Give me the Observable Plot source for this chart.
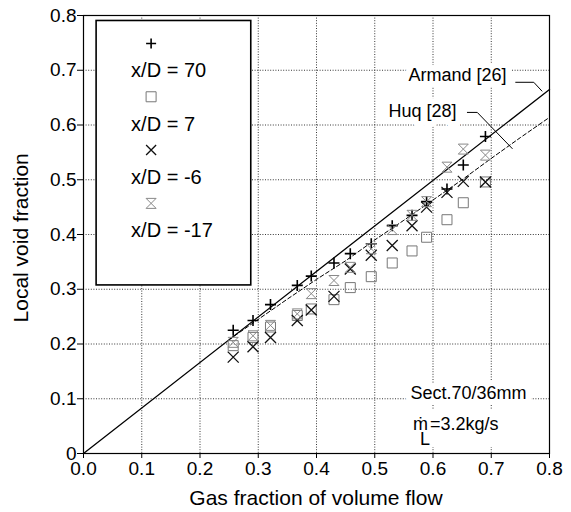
<!DOCTYPE html>
<html>
<head>
<meta charset="utf-8">
<script src="https://cdn.jsdelivr.net/npm/d3@7"></script>
<script src="https://cdn.jsdelivr.net/npm/@observablehq/plot@0.6"></script>
<style>
  html, body { margin: 0; padding: 0; background: #fff; }
  #chart { position: relative; width: 571px; height: 512px; }
  svg { font-family: "Liberation Sans", Arial, sans-serif; }
</style>
</head>
<body>
<div id="chart"></div>
<script>
// ---- data ----
const gasFraction = [0.257, 0.291, 0.321, 0.367, 0.391, 0.430, 0.458, 0.494, 0.530, 0.564, 0.589, 0.624, 0.652, 0.690];
const xD70  = [0.225, 0.243, 0.272, 0.307, 0.324, 0.348, 0.365, 0.383, 0.416, 0.435, 0.460, 0.483, 0.527, 0.579];
const xD7   = [0.197, 0.212, 0.231, 0.252, 0.264, 0.281, 0.303, 0.323, 0.348, 0.370, 0.395, 0.427, 0.458, 0.496];
const xDm6  = [0.176, 0.195, 0.212, 0.243, 0.262, 0.287, 0.337, 0.362, 0.380, 0.416, 0.450, 0.477, 0.497, 0.496];
const xDm17 = [0.203, 0.215, 0.234, 0.255, 0.292, 0.316, 0.340, 0.374, 0.409, 0.435, 0.460, 0.523, 0.556, 0.545];
const seriesNames = ["x/D = 70", "x/D = 7", "x/D = -6", "x/D = -17"];

const armandX = [0, 0.8];
const armandY = [0, 0.665];
const huqX = [0.25, 0.30, 0.35, 0.40, 0.45, 0.50, 0.55, 0.60, 0.65, 0.70, 0.75, 0.80];
const huqY = [0.208, 0.245, 0.282, 0.318, 0.352, 0.390, 0.426, 0.463, 0.500, 0.539, 0.577, 0.614];

const xTicks = [0, 0.1, 0.2, 0.3, 0.4, 0.5, 0.6, 0.7, 0.8];
const yTicks = [0, 0.1, 0.2, 0.3, 0.4, 0.5, 0.6, 0.7, 0.8];
const gridTicks = [0.1, 0.2, 0.3, 0.4, 0.5, 0.6, 0.7];
const xTitle = "Gas fraction of volume flow";
const yTitle = "Local void fraction";

// ---- symbols ----
const half = size => Math.sqrt(size / Math.PI);
const plusSym = {draw(c, s) { const r = half(s); c.moveTo(-r, 0); c.lineTo(r, 0); c.moveTo(0, -r); c.lineTo(0, r); }};
const squareSym = {draw(c, s) { const r = half(s); c.moveTo(-r, -r); c.lineTo(r, -r); c.lineTo(r, r); c.lineTo(-r, r); c.closePath(); }};
const timesSym = {draw(c, s) { const r = half(s); c.moveTo(-r, -r); c.lineTo(r, r); c.moveTo(r, -r); c.lineTo(-r, r); }};
const hourSym = {draw(c, s) { const r = half(s); c.moveTo(-r, -r); c.lineTo(r, -r); c.lineTo(-r, r); c.lineTo(r, r); c.closePath(); }};

const seriesStyle = [
  {sym: plusSym, stroke: "#000", sw: 1.6, r: 5.5},
  {sym: squareSym, stroke: "#777", sw: 1.0, r: 5},
  {sym: timesSym, stroke: "#111", sw: 1.3, r: 5.5},
  {sym: hourSym, stroke: "#888", sw: 1.0, r: 5}
];
const seriesValues = [xD70, xD7, xDm6, xDm17];

const points = [];
seriesValues.forEach((vals, k) => vals.forEach((v, i) => points.push({x: gasFraction[i], y: v, k})));
const armand = armandX.map((x, i) => ({x, y: armandY[i]}));
const huq = huqX.map((x, i) => ({x, y: huqY[i]}));

const notes = [
  {text: "Armand [26]", x: 0.642, y: 0.690, anchor: "middle"},
  {text: "Huq [28]", x: 0.582, y: 0.626, anchor: "middle"},
  {text: "Sect.70/36mm", x: 0.661, y: 0.110, anchor: "middle"}
];
const leaders = [
  [{x: 0.742, y: 0.678}, {x: 0.773, y: 0.678}, {x: 0.787, y: 0.662}],
  [{x: 0.659, y: 0.623}, {x: 0.676, y: 0.623}, {x: 0.736, y: 0.557}]
];

const plot = Plot.plot({
  width: 571,
  height: 512,
  marginLeft: 83,
  marginRight: 22,
  marginTop: 15,
  marginBottom: 59,
  style: {fontFamily: "Liberation Sans, Arial, sans-serif", background: "white", color: "#000"},
  x: {domain: [0, 0.8]},
  y: {domain: [0, 0.8]},
  marks: [
    Plot.gridX(gridTicks, {stroke: "#222", strokeOpacity: 0.9, strokeDasharray: "1,1.6", strokeWidth: 1}),
    Plot.gridY(gridTicks, {stroke: "#222", strokeOpacity: 0.9, strokeDasharray: "1,1.6", strokeWidth: 1}),
    Plot.axisX(xTicks, {tickFormat: d3.format(".1f"), tickSize: 5, tickPadding: 3, fontSize: 19, label: null}),
    Plot.axisY(yTicks, {tickFormat: d => d === 0 ? "0" : d3.format(".1f")(d), tickSize: 6, tickPadding: 1, fontSize: 19, label: null}),
    Plot.line(armand, {x: "x", y: "y", stroke: "#000", strokeWidth: 1.3}),
    Plot.line(huq, {x: "x", y: "y", stroke: "#000", strokeWidth: 1, strokeDasharray: "4,2.5"}),
    ...seriesStyle.map((st, k) => Plot.dot(points.filter(p => p.k === k), {
      x: "x", y: "y", symbol: st.sym, r: st.r, fill: "none", stroke: st.stroke, strokeWidth: st.sw
    })),
    Plot.text(notes, {x: "x", y: "y", text: "text", textAnchor: "anchor", fontSize: 18, fill: "#000",
      stroke: "white", strokeWidth: 12, strokeLinejoin: "round"}),
    ...leaders.map(l => Plot.line(l, {x: "x", y: "y", stroke: "#000", strokeWidth: 1})),
    Plot.frame({stroke: "#000", strokeWidth: 1.2})
  ]
});

document.getElementById("chart").appendChild(plot);

const sx = plot.scale("x"), sy = plot.scale("y");
const svg = d3.select(plot);

// ---- axis titles ----
svg.append("text").attr("x", sx.apply(0.4)).attr("y", 498).attr("dy", "0.35em")
  .attr("text-anchor", "middle").attr("font-size", 21).attr("fill", "#000").text(xTitle);
svg.append("text").attr("transform", `translate(21,${sy.apply(0.393)}) rotate(-90)`).attr("dy", "0.35em")
  .attr("text-anchor", "middle").attr("font-size", 21).attr("fill", "#000").text(yTitle);

// ---- m-dot annotation with subscript ----
const mx = sx.apply(0.5665), my = sy.apply(0.053);
svg.append("rect").attr("x", mx - 8).attr("y", my - 15).attr("width", 112).attr("height", 38).attr("fill", "white");
const mt = svg.append("text").attr("x", mx).attr("y", my).attr("dy", "0.35em")
  .attr("text-anchor", "start").attr("font-size", 18).attr("fill", "#000");
mt.append("tspan").text("ṁ");
mt.append("tspan").attr("dx", -8).attr("dy", 15).text("L");
mt.append("tspan").attr("dy", -15).text("=3.2kg/s");

// ---- legend box ----
const lx0 = sx.apply(0.0225), lx1 = sx.apply(0.288);
const ly0 = sy.apply(0.790), ly1 = sy.apply(0.307);
const lg = svg.append("g");
lg.append("rect").attr("x", lx0).attr("y", ly0).attr("width", lx1 - lx0).attr("height", ly1 - ly0)
  .attr("fill", "white").attr("stroke", "#000").attr("stroke-width", 1.6);
const symX = lx0 + 55, textX = lx0 + 35;
seriesStyle.forEach((st, k) => {
  const y = ly0 + 23 + k * 53.3;
  lg.append("path").attr("transform", `translate(${symX},${y})`)
    .attr("d", d3.symbol(st.sym, Math.PI * 5 * 5)())
    .attr("fill", "none").attr("stroke", st.stroke).attr("stroke-width", st.sw);
  lg.append("text").attr("x", textX).attr("y", y + 27).attr("dy", "0.35em")
    .attr("text-anchor", "start").attr("font-size", 20).attr("fill", "#000").text(seriesNames[k]);
});
</script>
</body>
</html>
